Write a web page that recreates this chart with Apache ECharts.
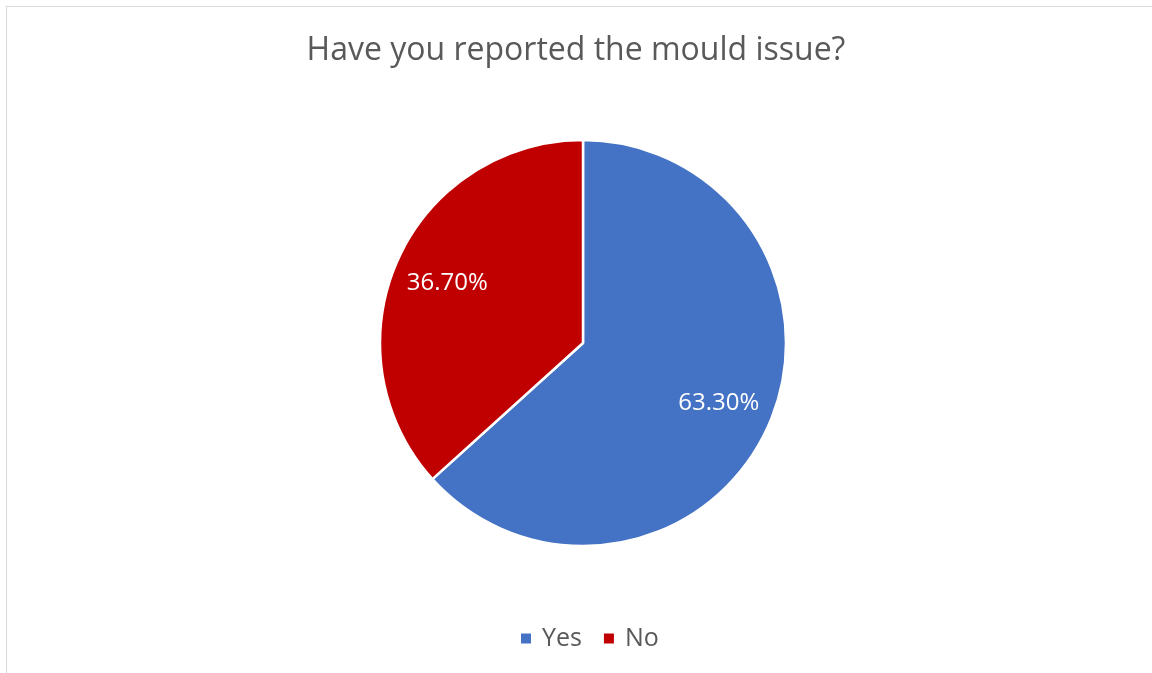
<!DOCTYPE html>
<html>
<head>
<meta charset="utf-8">
<script src="https://cdn.jsdelivr.net/npm/echarts@6/dist/echarts.min.js"></script>
<style>
  html,body{margin:0;padding:0;background:#fff;}
  #frame{position:absolute;left:6px;top:6px;width:1160px;height:680px;border:1px solid #d9d9d9;box-sizing:border-box;}
  #chart{position:absolute;left:0;top:0;width:1152px;height:673px;}
</style>
</head>
<body>
<div id="frame"></div>
<div id="chart"></div>
<script>
// 饼图数据：是否已报告霉菌问题
var categories = ['Yes', 'No'];
var shares = [63.3, 36.7];
var colors = ['#4472C4', '#C00000'];

var pieData = categories.map(function(c, i){
  return {name:c, value:shares[i], itemStyle:{color:colors[i]}};
});

var chart = echarts.init(document.getElementById('chart'));
chart.setOption({
  backgroundColor:'transparent',
  animation:false,
  title:{
    text:'Have you reported the mould issue?',
    left:'center', top:30,
    textStyle:{color:'#595959', fontSize:32, fontWeight:'normal', fontFamily:'Open Sans'}
  },
  legend:{
    data:categories, top:621, left:514,
    icon:'rect', itemWidth:12, itemHeight:12, itemGap:20,
    textStyle:{color:'#595959', fontSize:25, fontFamily:'Open Sans', padding:[0,0,0,5]}
  },
  series:[
    {
      type:'pie', center:[583,343], radius:203,
      startAngle:90, clockwise:true,
      itemStyle:{borderColor:'#fff', borderWidth:2.5},
      label:{show:false}, labelLine:{show:false},
      emphasis:{disabled:true},
      data:pieData
    },
    {
      // 标签专用透明环，把百分比放在离圆心约 0.72r 处
      type:'pie', center:[583,343], radius:[88,203],
      startAngle:90, clockwise:true, silent:true,
      itemStyle:{color:'transparent', borderWidth:0},
      label:{
        show:true, position:'inside', color:'#fff', fontSize:24, fontFamily:'Open Sans',
        formatter:function(p){ return p.value.toFixed(2) + '%'; }
      },
      labelLine:{show:false},
      data:categories.map(function(c, i){ return {name:c, value:shares[i]}; })
    }
  ]
});
</script>
</body>
</html>
